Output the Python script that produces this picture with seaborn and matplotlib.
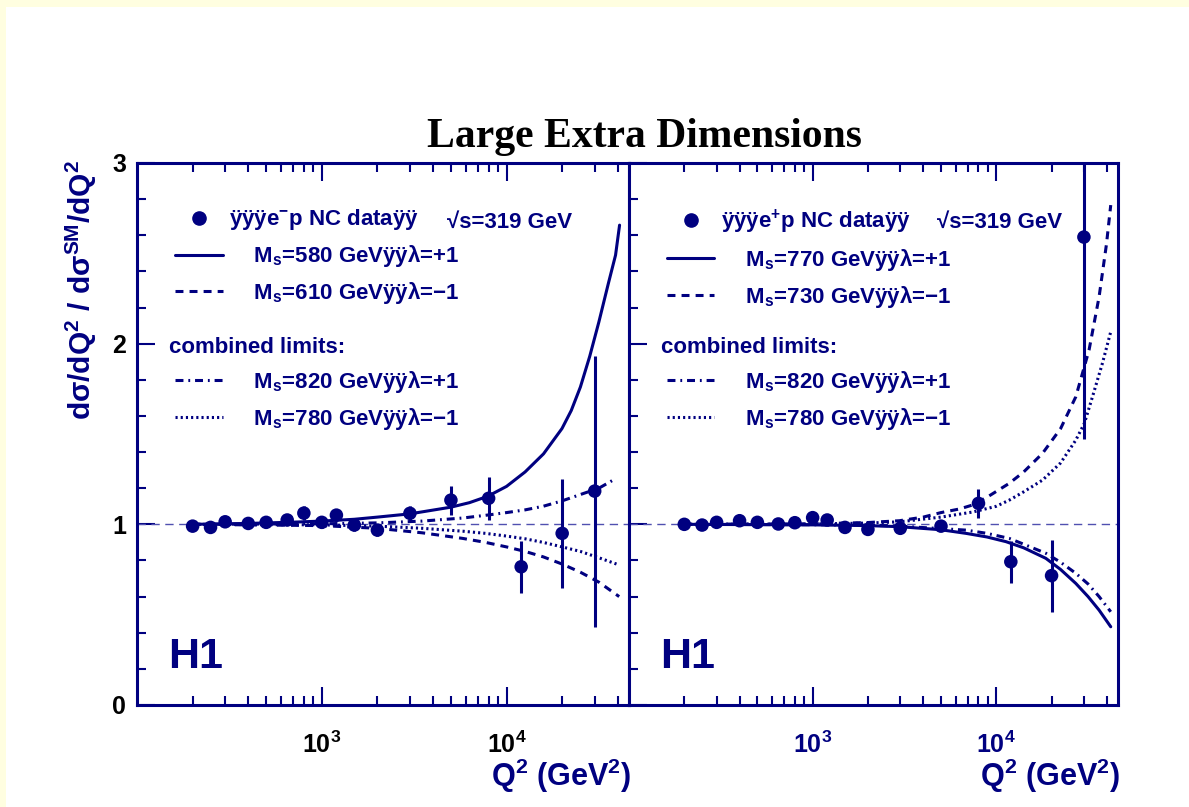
import matplotlib
matplotlib.use("Agg")
import matplotlib.pyplot as plt
from matplotlib.lines import Line2D
from matplotlib.patches import Rectangle
from matplotlib.ticker import FixedLocator, MultipleLocator, NullFormatter
import pandas as pd
import seaborn as sns

NAVY = "#000080"

# H1 NC data, ratio to Standard Model
q2_pts = [200, 250, 300, 400, 500, 650, 800, 1000, 1200, 1500, 2000, 3000,
          5000, 8000, 12000, 20000, 30000]
ratio_em = [0.99, 0.983, 1.014, 1.005, 1.011, 1.024, 1.062, 1.011, 1.051, 0.996,
            0.968, 1.061, 1.134, 1.144, 0.765, 0.95, 1.184]
err_em = [0.012, 0.012, 0.02, 0.015, 0.018, 0.025, 0.04, 0.03, 0.035, 0.035,
          0.035, 0.04, 0.08, 0.12, 0.145, 0.30, 0.75]
ratio_ep = [1.0, 0.996, 1.011, 1.02, 1.011, 1.002, 1.009, 1.037, 1.024, 0.983,
            0.972, 0.978, 0.99, 1.116, 0.793, 0.716, 2.59]
err_ep = [0.01, 0.01, 0.012, 0.012, 0.012, 0.015, 0.015, 0.02, 0.02, 0.02,
          0.025, 0.025, 0.025, 0.08, 0.115, 0.2, 1.12]

# model curves (e- p)
em_solid_q2 = [200, 400, 700, 1000, 1500, 2000, 3000, 5000, 6300, 7900, 10000, 12600,
               15850, 19950, 22400, 25100, 28200, 31600, 35500, 38900, 40900]
em_solid = [1.0, 1.005, 1.012, 1.018, 1.028, 1.04, 1.058, 1.095, 1.12, 1.155, 1.21, 1.29,
            1.39, 1.53, 1.63, 1.76, 1.93, 2.12, 2.33, 2.49, 2.656]
em_dashed_q2 = [200, 1000, 2000, 3500, 5800, 7700, 10000, 12600, 15800, 20000, 25100,
                31600, 40700]
em_dashed = [1.0, 0.993, 0.978, 0.953, 0.922, 0.9, 0.875, 0.85, 0.82, 0.78, 0.735,
             0.68, 0.60]
em_dashdot_q2 = [200, 1000, 2000, 3500, 5800, 7700, 10000, 12600, 15800, 20000, 25100,
                 31600, 38500]
em_dashdot = [1.0, 1.003, 1.008, 1.018, 1.035, 1.05, 1.065, 1.08, 1.1, 1.13, 1.165,
              1.2, 1.25]
em_dotted_q2 = [200, 1000, 2000, 3500, 5800, 7700, 10000, 12600, 15800, 20000, 25100,
                31600, 40700]
em_dotted = [1.0, 0.997, 0.99, 0.978, 0.962, 0.95, 0.935, 0.92, 0.9, 0.875, 0.85,
             0.815, 0.775]

# model curves (e+ p)
ep_solid_q2 = [200, 1000, 2000, 2970, 5000, 6840, 8900, 11300, 14100, 18600, 22400,
               27100, 31600, 36300, 42000]
ep_solid = [1.0, 0.997, 0.993, 0.987, 0.97, 0.95, 0.93, 0.904, 0.87, 0.812, 0.75,
            0.673, 0.6, 0.525, 0.433]
ep_dashed_q2 = [200, 1000, 2000, 2970, 4000, 5000, 6300, 7430, 8900, 11770, 14100,
                17860, 22400, 27100, 32000, 36300, 39800, 42000]
ep_dashed = [1.0, 1.003, 1.01, 1.02, 1.04, 1.065, 1.085, 1.107, 1.15, 1.227, 1.29,
             1.393, 1.53, 1.706, 1.965, 2.26, 2.55, 2.767]
ep_dashdot_q2 = [200, 1000, 2000, 2970, 6840, 8900, 11770, 14100, 18600, 22400, 27100,
                 31600, 36300, 42000]
ep_dashdot = [1.0, 0.998, 0.995, 0.99, 0.968, 0.95, 0.922, 0.89, 0.84, 0.79, 0.729,
              0.67, 0.6, 0.516]
ep_dotted_q2 = [200, 1000, 2000, 2970, 5000, 7430, 10000, 11770, 14100, 17860, 22400,
                27100, 30200, 33400, 37800, 42000]
ep_dotted = [1.0, 1.002, 1.007, 1.014, 1.04, 1.068, 1.1, 1.134, 1.18, 1.245, 1.34,
             1.466, 1.56, 1.706, 1.89, 2.066]

labels_em = ["ÿÿÿe$^{-}$p NC dataÿÿ", "    M$_{s}$=580 GeVÿÿλ=+1", "    M$_{s}$=610 GeVÿÿλ=−1",
             "    M$_{s}$=820 GeVÿÿλ=+1", "    M$_{s}$=780 GeVÿÿλ=−1"]
labels_ep = ["ÿÿÿe$^{+}$p NC dataÿÿ", "    M$_{s}$=770 GeVÿÿλ=+1", "    M$_{s}$=730 GeVÿÿλ=−1",
             "    M$_{s}$=820 GeVÿÿλ=+1", "    M$_{s}$=780 GeVÿÿλ=−1"]

STYLES = {"solid": "-", "dashed": (0, (2.6, 2.0)), "dashdot": (0, (2.6, 1.6, 0.6, 1.6)),
          "dotted": (0, (0.7, 1.0))}
LW = 2.2

sns.set_style("white")
plt.rcParams["font.family"] = ["Liberation Sans", "DejaVu Sans"]
plt.rcParams["font.weight"] = "bold"
plt.rcParams["mathtext.default"] = "regular"

fig = plt.figure(figsize=(11.89, 8.07), dpi=100)
fig.patch.set_facecolor("#fffee0")
fig.patches.append(Rectangle((6 / 1189, 0), 1, 1 - 7 / 807, transform=fig.transFigure,
                             facecolor="white", edgecolor="none", zorder=-10))

ax_l = fig.add_axes([137 / 1189, 1 - 705 / 807, 492 / 1189, 542 / 807])
ax_r = fig.add_axes([629 / 1189, 1 - 705 / 807, 489 / 1189, 542 / 807])


def draw_panel(ax, ratio, err, curves, labels, tick_color):
    ax.set_xscale("log")
    ax.axhline(1.0, color="#5050b0", lw=1.0, ls=(0, (6, 4)), zorder=1)
    for (qq, rr, key) in curves:
        df = pd.DataFrame({"q2": qq, "r": rr})
        sns.lineplot(data=df, x="q2", y="r", ax=ax, color=NAVY, lw=LW,
                     linestyle=STYLES[key], sort=True, zorder=3)
    ax.errorbar(q2_pts, ratio, yerr=err, fmt="none", ecolor=NAVY, elinewidth=2.2,
                capsize=0, zorder=4)
    pts = pd.DataFrame({"q2": q2_pts, "r": ratio})
    sns.scatterplot(data=pts, x="q2", y="r", ax=ax, color=NAVY, s=95,
                    edgecolor="none", zorder=5)
    ax.set_xlim(100, 4.6e4)
    ax.set_ylim(0, 3)
    ax.xaxis.set_major_locator(FixedLocator([1e3, 1e4]))
    ax.set_xticklabels(["10$^{3}$", "10$^{4}$"], fontsize=18, fontweight="bold",
                       color=tick_color)
    minors = [m * 10 ** k for k in (2, 3) for m in range(2, 10)] + [2e4, 3e4, 4e4]
    ax.xaxis.set_minor_locator(FixedLocator(minors))
    ax.xaxis.set_minor_formatter(NullFormatter())
    ax.yaxis.set_major_locator(FixedLocator([0, 1, 2, 3]))
    ax.yaxis.set_minor_locator(MultipleLocator(0.2))
    ax.tick_params(which="both", direction="in", color=NAVY, width=1.5,
                   top=True, bottom=True, left=True, right=False)
    ax.tick_params(which="major", length=13)
    ax.tick_params(which="minor", length=6.5)
    ax.tick_params(axis="x", pad=19)
    for s in ax.spines.values():
        s.set_color(NAVY)
        s.set_linewidth(2.2)
    ax.set_xlabel("Q$^{2}$ (GeV$^{2}$)", loc="right", fontsize=22, color=NAVY,
                  fontweight="bold")
    ax.xaxis.set_label_coords(1.005, -0.095)
    ax.set_ylabel("")

    h_data = Line2D([], [], marker="o", ls="none", color=NAVY, markersize=9.5)
    h = [Line2D([], [], color=NAVY, lw=LW, ls=STYLES[k])
         for k in ("solid", "dashed", "dashdot", "dotted")]
    leg1 = ax.legend([h_data, h[0], h[1]], labels[:3], loc="upper left",
                     bbox_to_anchor=(0.077, 0.918), frameon=False, fontsize=16,
                     handlelength=2.15, handletextpad=0.3, labelspacing=0.49,
                     borderpad=0, borderaxespad=0, labelcolor=NAVY)
    ax.add_artist(leg1)
    ax.legend([h[2], h[3]], labels[3:], loc="upper left",
              bbox_to_anchor=(0.077, 0.6195), frameon=False, fontsize=16,
              handlelength=2.15, handletextpad=0.3, labelspacing=0.49,
              borderpad=0, borderaxespad=0, labelcolor=NAVY)
    ax.text(0.065, 0.66, "combined limits:", transform=ax.transAxes, fontsize=16,
            color=NAVY, fontweight="bold", va="center", ha="left")
    ax.text(0.63, 0.89, "√s=319 GeV", transform=ax.transAxes, fontsize=16,
            color=NAVY, fontweight="bold", va="center", ha="left")
    ax.text(0.063, 0.068, "H1", transform=ax.transAxes, fontsize=31,
            color=NAVY, fontweight="bold", va="baseline", ha="left")


draw_panel(ax_l, ratio_em, err_em,
           [(em_solid_q2, em_solid, "solid"), (em_dashed_q2, em_dashed, "dashed"),
            (em_dashdot_q2, em_dashdot, "dashdot"), (em_dotted_q2, em_dotted, "dotted")],
           labels_em, "black")
draw_panel(ax_r, ratio_ep, err_ep,
           [(ep_solid_q2, ep_solid, "solid"), (ep_dashed_q2, ep_dashed, "dashed"),
            (ep_dashdot_q2, ep_dashdot, "dashdot"), (ep_dotted_q2, ep_dotted, "dotted")],
           labels_ep, NAVY)

ax_l.set_yticklabels(["0", "1", "2", "3"], fontsize=18, fontweight="bold", color="black")
ax_l.tick_params(axis="y", pad=8)
ax_r.tick_params(axis="y", labelleft=False)
ax_l.set_ylabel("dσ/dQ$^{2}$ / dσ$^{SM}$/dQ$^{2}$", loc="top", fontsize=21.5,
                color=NAVY, fontweight="bold")
ax_l.yaxis.set_label_coords(-0.078, 1.006)

fig.text(644 / 1189, 1 - 147 / 807, "Large Extra Dimensions", ha="center",
         va="baseline", fontsize=30, fontweight="bold", family="Liberation Serif",
         color="black")

fig.savefig("out.png", dpi=100)
